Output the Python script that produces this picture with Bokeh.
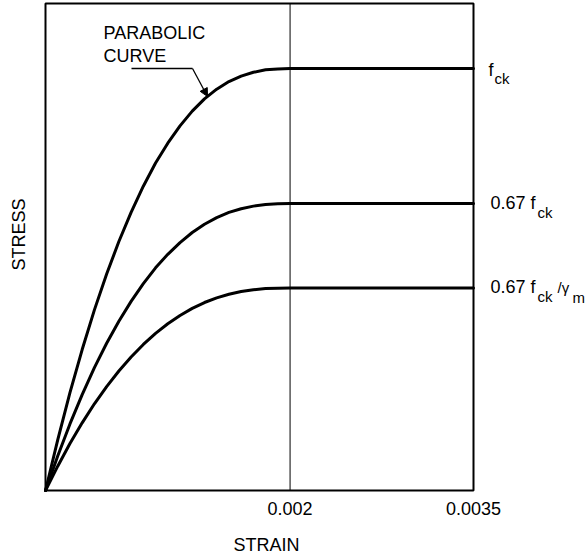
import numpy as np
from bokeh.plotting import figure
from bokeh.models import Range1d, Label, Arrow, NormalHead
from bokeh.embed import file_html
from bokeh.resources import INLINE

# ---- data ----
strain = [0.0, 0.0001, 0.0002, 0.0003, 0.0004, 0.0005, 0.0006, 0.0007, 0.0008,
          0.0009, 0.0010, 0.0011, 0.0012, 0.0013, 0.0014, 0.0015, 0.0016, 0.0017,
          0.0018, 0.0019, 0.0020, 0.0035]
# relative stress along the drawn "parabolic" curve (reaches the top at strain 0.002, then flat)
shape = [0.0, 0.120, 0.232, 0.334, 0.428, 0.513, 0.590, 0.659, 0.721,
         0.776, 0.823, 0.864, 0.899, 0.928, 0.951, 0.969, 0.982, 0.991,
         0.997, 0.999, 1.0, 1.0]
levels = [1.0, 0.68, 0.48]          # f_ck, 0.67 f_ck, 0.67 f_ck / gamma_m (as drawn)
tick_values = [0.002, 0.0035]
tick_labels = ["0.002", "0.0035"]
x_title = "STRAIN"
y_title = "STRESS"

# ---- layout (canvas pixels) ----
W, H = 586, 556
BOX_L, BOX_R, BOX_T, BOX_B = 45, 473, 3, 490
PX_PER_Y = 422.0
X_END = tick_values[-1]
FONT = "Liberation Sans"

def dx(px):   # canvas pixel -> data x
    return (px - BOX_L) / (BOX_R - BOX_L) * X_END

def dy(py):   # canvas pixel -> data y
    return (BOX_B - py) / PX_PER_Y

p = figure(width=W, height=H, output_backend="svg", toolbar_location=None,
           x_range=Range1d(dx(0), dx(W)), y_range=Range1d(dy(H), dy(0)),
           x_axis_location=None, y_axis_location=None,
           min_border=0, min_border_left=0, min_border_right=0,
           min_border_top=0, min_border_bottom=0)
p.background_fill_color = "white"
p.border_fill_color = "white"
p.outline_line_color = None
p.grid.grid_line_color = None

box_top = dy(BOX_T)
# chart box
p.quad(left=[0], right=[X_END], bottom=[0], top=[box_top],
       fill_color=None, line_color="black", line_width=2)
# strain = 0.002 reference line
p.segment(x0=[tick_values[0]], y0=[0], x1=[tick_values[0]], y1=[box_top],
          line_color="black", line_width=1)

for lvl in levels:
    p.line(strain, [lvl * s for s in shape], line_color="black", line_width=3,
           line_join="round", line_cap="round")

def lab(text, px, base_py, size=18, align="left", **kw):
    # base_py: text baseline in canvas pixels -> converted to the text's middle
    p.add_layout(Label(x=dx(px), y=dy(base_py - 0.35 * size), text=text,
                       text_font=FONT, text_font_size=f"{size}px",
                       text_color="black", text_baseline="middle",
                       text_align=align, **kw))

# curve annotation
lab("PARABOLIC", 103, 39)
lab("CURVE", 103, 62)
p.add_layout(Arrow(end=None, x_start=dx(131), y_start=dy(68), x_end=dx(192), y_end=dy(68),
                   line_color="black", line_width=1.3))
p.add_layout(Arrow(end=NormalHead(size=8, fill_color="black", line_color="black"),
                   x_start=dx(192), y_start=dy(68), x_end=dx(207), y_end=dy(96),
                   line_color="black", line_width=1.3))

# level labels
lab("f", 488, 76)
lab("ck", 494, 83, size=15)
lab("0.67 f", 490, 209)
lab("ck", 537, 217, size=15)
lab("0.67 f", 490, 293)
lab("ck", 537, 301, size=15)
lab("/\u03b3", 557, 292, size=15)
lab("m", 572, 302, size=15)

# tick labels
for v, t in zip(tick_values, tick_labels):
    p.add_layout(Label(x=v, y=dy(514 - 0.35 * 18), text=t, text_font=FONT,
                       text_font_size="18px", text_color="black",
                       text_baseline="middle", text_align="center"))

# axis titles
lab(x_title, 266, 551, align="center")
p.add_layout(Label(x=dx(18), y=dy(234), text=y_title, text_font=FONT,
                   text_font_size="18px", text_color="black",
                   text_baseline="middle", text_align="center", angle=np.pi / 2))

open("out.html", "w").write(file_html(p, INLINE))
